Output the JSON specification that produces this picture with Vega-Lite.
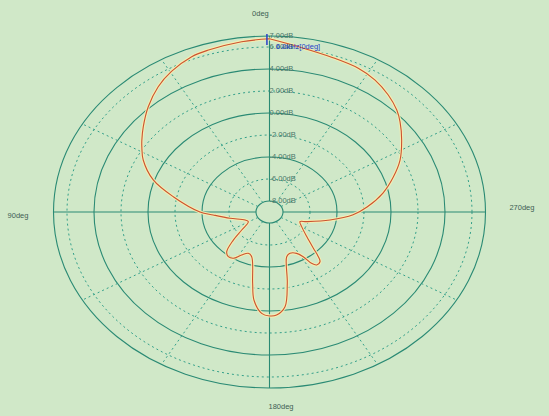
{
  "$schema": "https://vega.github.io/schema/vega-lite/v6.json",
  "width": 549,
  "height": 416,
  "autosize": "none",
  "padding": 0,
  "background": "#d0e8c8",
  "config": {"view": {"stroke": null}, "text": {"font": "Liberation Sans", "fontSize": 7.5}},
  "layer": [
    {
      "data": {"values": [{"db": -8}, {"db": -4}, {"db": 0}, {"db": 4}, {"db": 7}]},
      "transform": [{"calculate": "datum.db + 9", "as": "r"}],
      "mark": {"type": "point", "shape": "M1,0C1,0.45 0.5523,0.8148 0,0.8148C-0.5523,0.8148 -1,0.45 -1,0C-1,-0.45 -0.5523,-0.8148 0,-0.8148C0.5523,-0.8148 1,-0.45 1,0Z", "filled": false, "stroke": "#2a8a74", "strokeWidth": 1.1, "opacity": 1},
      "encoding": {
        "x": {"datum": 0, "type": "quantitative", "scale": {"domain": [-19.963, 20.704], "nice": false, "zero": false}, "axis": null},
        "y": {"datum": 0, "type": "quantitative", "scale": {"domain": [-18.545, 19.273], "nice": false, "zero": false}, "axis": null},
        "size": {"field": "r", "type": "quantitative", "scale": {"type": "pow", "exponent": 2, "domain": [0, 16], "range": [0, 186624]}, "legend": null}
      }
    },
    {
      "data": {"values": [{"db": -6}, {"db": -2}, {"db": 2}, {"db": 6}]},
      "transform": [{"calculate": "datum.db + 9", "as": "r"}],
      "mark": {"type": "point", "shape": "M1,0C1,0.45 0.5523,0.8148 0,0.8148C-0.5523,0.8148 -1,0.45 -1,0C-1,-0.45 -0.5523,-0.8148 0,-0.8148C0.5523,-0.8148 1,-0.45 1,0Z", "filled": false, "stroke": "#34a08a", "strokeWidth": 1, "strokeDash": [2, 3], "opacity": 1},
      "encoding": {
        "x": {"datum": 0, "type": "quantitative"},
        "y": {"datum": 0, "type": "quantitative"},
        "size": {"field": "r", "type": "quantitative", "scale": {"type": "pow", "exponent": 2, "domain": [0, 16], "range": [0, 186624]}, "legend": null}
      }
    },
    {
      "data": {"values": [{"deg": 30}, {"deg": 60}, {"deg": 120}, {"deg": 150}, {"deg": 210}, {"deg": 240}, {"deg": 300}, {"deg": 330}]},
      "transform": [
        {"calculate": "-sin(datum.deg * PI / 180)", "as": "x"},
        {"calculate": "cos(datum.deg * PI / 180)", "as": "y"},
        {"calculate": "-16 * sin(datum.deg * PI / 180)", "as": "x2"},
        {"calculate": "16 * cos(datum.deg * PI / 180)", "as": "y2"}
      ],
      "mark": {"type": "rule", "stroke": "#34a08a", "strokeWidth": 1, "strokeDash": [2, 3]},
      "encoding": {
        "x": {"field": "x", "type": "quantitative"},
        "y": {"field": "y", "type": "quantitative"},
        "x2": {"field": "x2"},
        "y2": {"field": "y2"}
      }
    },
    {
      "data": {"values": [{"deg": 0}, {"deg": 90}, {"deg": 180}, {"deg": 270}]},
      "transform": [
        {"calculate": "-sin(datum.deg * PI / 180)", "as": "x"},
        {"calculate": "cos(datum.deg * PI / 180)", "as": "y"},
        {"calculate": "-16 * sin(datum.deg * PI / 180)", "as": "x2"},
        {"calculate": "16 * cos(datum.deg * PI / 180)", "as": "y2"}
      ],
      "mark": {"type": "rule", "stroke": "#2a8a74", "strokeWidth": 1.1},
      "encoding": {
        "x": {"field": "x", "type": "quantitative"},
        "y": {"field": "y", "type": "quantitative"},
        "x2": {"field": "x2"},
        "y2": {"field": "y2"}
      }
    },
    {
      "data": {"name": "pattern"},
      "transform": [
        {"calculate": "-(datum.db + 9) * sin(datum.deg * PI / 180)", "as": "x"},
        {"calculate": "(datum.db + 9) * cos(datum.deg * PI / 180)", "as": "y"}
      ],
      "layer": [
        {"mark": {"type": "line", "stroke": "#f6f0b0", "strokeWidth": 3.2, "opacity": 0.9, "interpolate": "catmull-rom"}},
        {"mark": {"type": "line", "stroke": "#cc5230", "strokeWidth": 1.1, "interpolate": "catmull-rom"}}
      ],
      "encoding": {
        "x": {"field": "x", "type": "quantitative"},
        "y": {"field": "y", "type": "quantitative"},
        "order": {"field": "deg", "type": "quantitative"}
      }
    },
    {
      "data": {"values": [
        {"db": 7, "label": "7.00dB"}, {"db": 6, "label": "6.00dB"}, {"db": 4, "label": "4.00dB"},
        {"db": 2, "label": "2.00dB"}, {"db": 0, "label": "0.00dB"}, {"db": -2, "label": "-2.00dB"},
        {"db": -4, "label": "-4.00dB"}, {"db": -6, "label": "-6.00dB"}, {"db": -8, "label": "-8.00dB"}
      ]},
      "transform": [{"calculate": "datum.db + 9", "as": "r"}],
      "mark": {"type": "text", "align": "left", "baseline": "middle", "dx": 0, "color": "#4a7668"},
      "encoding": {
        "x": {"datum": 0, "type": "quantitative"},
        "y": {"field": "r", "type": "quantitative"},
        "text": {"field": "label"}
      }
    },
    {
      "data": {"values": [{}]},
      "mark": {"type": "text", "align": "center", "baseline": "middle", "color": "#3e5e54"},
      "encoding": {"x": {"datum": -0.67, "type": "quantitative"}, "y": {"datum": 18.0, "type": "quantitative"}, "text": {"value": "0deg"}}
    },
    {
      "data": {"values": [{}]},
      "mark": {"type": "text", "align": "center", "baseline": "middle", "color": "#3e5e54"},
      "encoding": {"x": {"datum": 0.85, "type": "quantitative"}, "y": {"datum": -17.73, "type": "quantitative"}, "text": {"value": "180deg"}}
    },
    {
      "data": {"values": [{}]},
      "mark": {"type": "text", "align": "center", "baseline": "middle", "color": "#3e5e54"},
      "encoding": {"x": {"datum": -18.63, "type": "quantitative"}, "y": {"datum": -0.4, "type": "quantitative"}, "text": {"value": "90deg"}}
    },
    {
      "data": {"values": [{}]},
      "mark": {"type": "text", "align": "center", "baseline": "middle", "color": "#3e5e54"},
      "encoding": {"x": {"datum": 18.7, "type": "quantitative"}, "y": {"datum": 0.36, "type": "quantitative"}, "text": {"value": "270deg"}}
    },
    {
      "data": {"values": [{}]},
      "mark": {"type": "rule", "stroke": "#2a3fc8", "strokeWidth": 1.5},
      "encoding": {"x": {"datum": -0.19, "type": "quantitative"}, "y": {"datum": 16.18, "type": "quantitative"}, "y2": {"datum": 15.18}}
    },
    {
      "data": {"values": [{}]},
      "mark": {"type": "text", "align": "left", "baseline": "middle", "color": "#2a3fc8"},
      "encoding": {"x": {"datum": 0.48, "type": "quantitative"}, "y": {"datum": 15.0, "type": "quantitative"}, "text": {"value": "6.0kHz[0deg]"}}
    }
  ],
  "datasets": {
    "pattern": [
      {"deg": 0, "db": 6.75}, {"deg": 7.6, "db": 6.62}, {"deg": 17.3, "db": 6.4}, {"deg": 22.2, "db": 6.25},
      {"deg": 29.6, "db": 5.7}, {"deg": 35.9, "db": 5.06}, {"deg": 43.2, "db": 4.12}, {"deg": 50.3, "db": 3.15},
      {"deg": 55.3, "db": 2.5}, {"deg": 58, "db": 2.15}, {"deg": 63.2, "db": 1.48}, {"deg": 71.3, "db": 0.09},
      {"deg": 79, "db": -1.74}, {"deg": 90, "db": -3.85}, {"deg": 93.7, "db": -4.82}, {"deg": 101, "db": -6.02},
      {"deg": 112, "db": -7.05}, {"deg": 119.3, "db": -7.2}, {"deg": 128.5, "db": -6.37}, {"deg": 133.6, "db": -5.3},
      {"deg": 138.7, "db": -4.2}, {"deg": 143.1, "db": -3.92}, {"deg": 147.5, "db": -4.01}, {"deg": 152.2, "db": -4.58},
      {"deg": 157.3, "db": -4.93}, {"deg": 162, "db": -4.73}, {"deg": 169.1, "db": -2.4}, {"deg": 171.8, "db": -0.92},
      {"deg": 176.4, "db": 0.23}, {"deg": 180, "db": 0.45}, {"deg": 183.2, "db": 0.38}, {"deg": 187.6, "db": -0.31},
      {"deg": 191.5, "db": -2.39}, {"deg": 197.4, "db": -4.74}, {"deg": 202, "db": -4.95}, {"deg": 208.1, "db": -4.74},
      {"deg": 211.6, "db": -4.23}, {"deg": 213.7, "db": -3.39}, {"deg": 216, "db": -3.05}, {"deg": 219.6, "db": -3.13},
      {"deg": 221.7, "db": -3.56}, {"deg": 224.6, "db": -4.37}, {"deg": 231, "db": -5.45}, {"deg": 240.8, "db": -6.27},
      {"deg": 248.7, "db": -6.58}, {"deg": 252.3, "db": -6.11}, {"deg": 260.8, "db": -4.46}, {"deg": 267.7, "db": -2.8},
      {"deg": 273.6, "db": -1.76}, {"deg": 281.6, "db": -0.42}, {"deg": 289, "db": 0.69}, {"deg": 296, "db": 1.76},
      {"deg": 303.8, "db": 2.78}, {"deg": 310.3, "db": 3.68}, {"deg": 314.5, "db": 4.22}, {"deg": 320.4, "db": 4.8},
      {"deg": 326.9, "db": 5.32}, {"deg": 333.3, "db": 5.63}, {"deg": 341.7, "db": 5.8}, {"deg": 351.9, "db": 6.18},
      {"deg": 360, "db": 6.75}
    ]
  }
}
